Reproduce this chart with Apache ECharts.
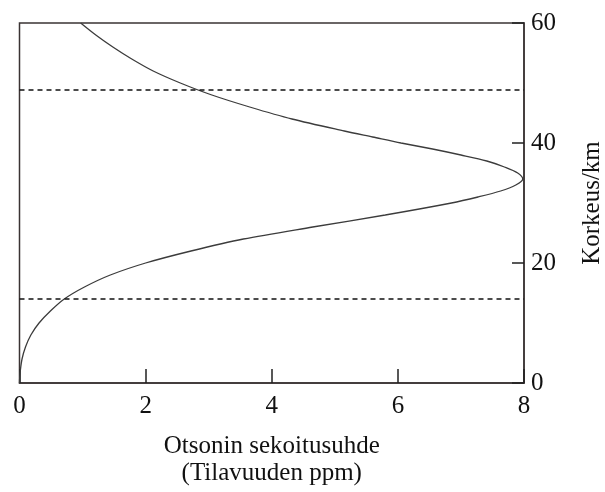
<!DOCTYPE html>
<html>
<head>
<meta charset="utf-8">
<script src="https://cdn.jsdelivr.net/npm/echarts@6/dist/echarts.min.js"></script>
<style>html,body{margin:0;padding:0;background:#fff}#c{width:605px;height:492px}</style>
</head>
<body>
<div id="c"></div>
<script>
// Altitude (km) and ozone mixing ratio (ppm by volume)
const altitudes = [0, 1, 2, 4, 6, 8, 10, 12, 14, 16, 18, 20, 22, 24, 26, 28, 30, 31, 32, 33, 34, 35, 36, 37, 38, 39, 40, 41, 42, 44, 46, 48, 50, 52, 54, 56, 58, 60];
const mixingRatio = [0, 0.003, 0.012, 0.04, 0.095, 0.18, 0.31, 0.49, 0.71, 1.03, 1.44, 2.00, 2.72, 3.55, 4.65, 5.80, 6.85, 7.27, 7.63, 7.87, 7.98, 7.90, 7.69, 7.41, 7.00, 6.55, 6.05, 5.60, 5.15, 4.32, 3.65, 3.05, 2.55, 2.12, 1.78, 1.48, 1.21, 0.97];
const boundaries = [14.1, 48.8];
const xTicks = [0, 2, 4, 6, 8];
const yTicks = [0, 20, 40, 60];
const xName = 'Otsonin sekoitusuhde\n(Tilavuuden ppm)';
const yName = 'Korkeus/km';

const font = 'Liberation Serif, Times New Roman, serif';
const chart = echarts.init(document.getElementById('c'));
chart.setOption({
  animation: false,
  grid: { left: 19.5, right: 81, top: 23, bottom: 109, outerBoundsMode: 'none', containLabel: false,
          show: true, borderColor: '#3a3333', borderWidth: 1.5, backgroundColor: 'transparent' },
  xAxis: {
    type: 'value', min: 0, max: 8, interval: 2,
    axisLine: { show: true, onZero: false, lineStyle: { color: '#3a3333', width: 1.5 } },
    axisTick: { show: true, inside: true, length: 14, lineStyle: { color: '#222', width: 1.5 } },
    axisLabel: { color: '#111', fontFamily: font, fontSize: 25, margin: 11 },
    splitLine: { show: false },
    name: xName, nameLocation: 'middle', nameGap: 50,
    nameTextStyle: { color: '#111', fontFamily: font, fontSize: 25, lineHeight: 27 }
  },
  yAxis: {
    type: 'value', position: 'right', min: 0, max: 60, interval: 20,
    axisLine: { show: true, onZero: false, lineStyle: { color: '#3a3333', width: 1.5 } },
    axisTick: { show: true, inside: true, length: 12, lineStyle: { color: '#222', width: 1.5 } },
    axisLabel: { color: '#111', fontFamily: font, fontSize: 25, margin: 7 },
    splitLine: { show: false },
    name: yName, nameLocation: 'middle', nameRotate: 90, nameGap: 56,
    nameTextStyle: { color: '#111', fontFamily: font, fontSize: 25 }
  },
  series: [{
    type: 'line',
    data: altitudes.map((a, i) => [mixingRatio[i], a]),
    smooth: 0.3,
    showSymbol: false,
    lineStyle: { color: '#3c3c3c', width: 1.3 },
    markLine: {
      silent: true, symbol: 'none', label: { show: false },
      lineStyle: { color: '#111', type: [5, 4], width: 1.6 },
      data: boundaries.map(b => ({ yAxis: b }))
    }
  }]
});
</script>
</body>
</html>
